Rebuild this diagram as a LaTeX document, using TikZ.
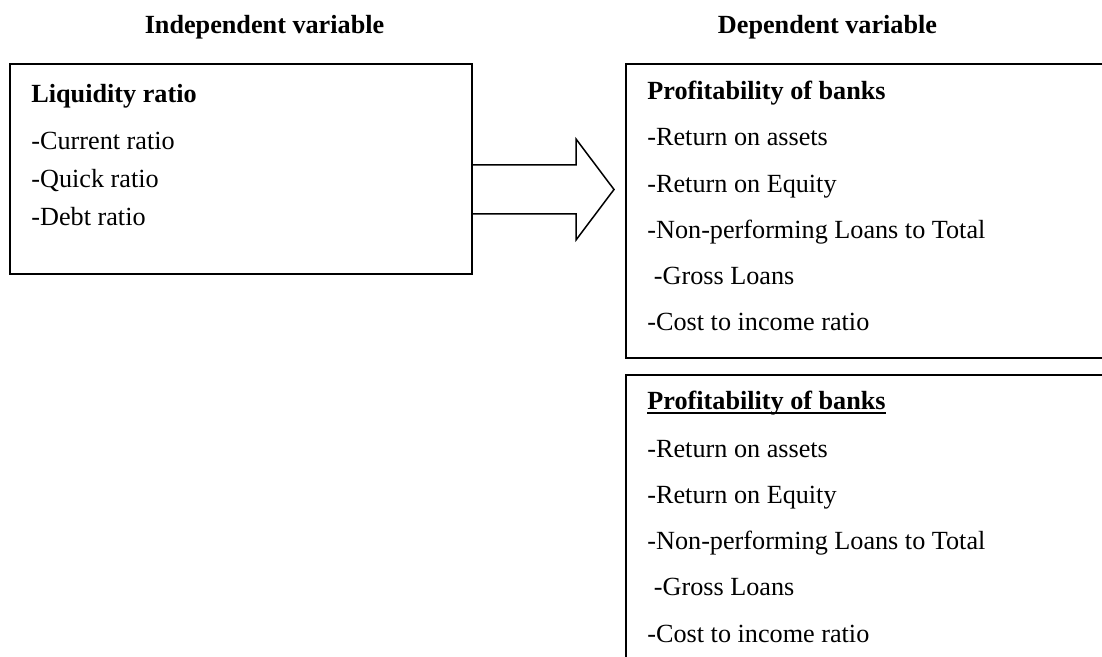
\documentclass[tikz,border=0pt]{standalone}
\usepackage{fontspec}
\setmainfont{Liberation Serif}
\usepackage{tikz}

\begin{document}
\begin{tikzpicture}[x=0.5pt, y=-0.5pt, font=\fontsize{13.1}{15}\selectfont,
	box/.style={draw, line width=1pt, anchor=north west, inner sep=0pt, outer sep=0pt},
	item/.style={anchor=base west, inner sep=0pt},
	head/.style={anchor=base, inner sep=0pt, font=\fontsize{13.1}{15}\selectfont\bfseries},
	blockarrow/.style={draw, line width=0.75pt, line join=miter}]
			\clip (0,0) rectangle (1102,657);
			\node[head] (indep) at (264.5,34) {Independent variable};
			\node[head] (dep) at (827.5,34) {Dependent variable};
			\node[box, minimum width=231pt, minimum height=105pt] (lbox) at (10,64) {};
			\node[box, minimum width=243pt, minimum height=147pt] (tbox) at (626,64) {};
			\node[box, minimum width=243pt, minimum height=148pt] (bbox) at (626,375) {};
			\node[item, font=\fontsize{13.1}{15}\selectfont\bfseries] (l-0) at (31,103) {Liquidity ratio};
			\foreach \t [count=\i] in {-Current ratio, -Quick ratio, -Debt ratio}
				\node[item] (l-\i) at (31,{150+38*(\i-1)}) {\t};
			\node[item, font=\fontsize{13.1}{15}\selectfont\bfseries] (t-0) at (647,100) {Profitability of banks};
			\foreach \t [count=\i] in {-Return on assets, -Return on Equity, -Non-performing Loans to Total, {\ -Gross Loans}, -Cost to income ratio}
				\node[item] (t-\i) at (647,{146+46.2*(\i-1)}) {\t};
			\node[item, font=\fontsize{13.1}{15}\selectfont\bfseries] (b-0) at (647,409) {Profitability of banks};
			\draw[line width=1pt] ([yshift=-2.1pt]b-0.base west) -- ([yshift=-2.1pt]b-0.base east);
			\foreach \t [count=\i] in {-Return on assets, -Return on Equity, -Non-performing Loans to Total, {\ -Gross Loans}, -Cost to income ratio}
				\node[item] (b-\i) at (647,{457+46.25*(\i-1)}) {\t};
			\draw[blockarrow] (lbox.east |- 0,165) -- (576,165) -- (576,139) -- (614,189.5) -- (576,240) -- (576,214) -- (lbox.east |- 0,214) -- cycle;
		\end{tikzpicture}
\end{document}
